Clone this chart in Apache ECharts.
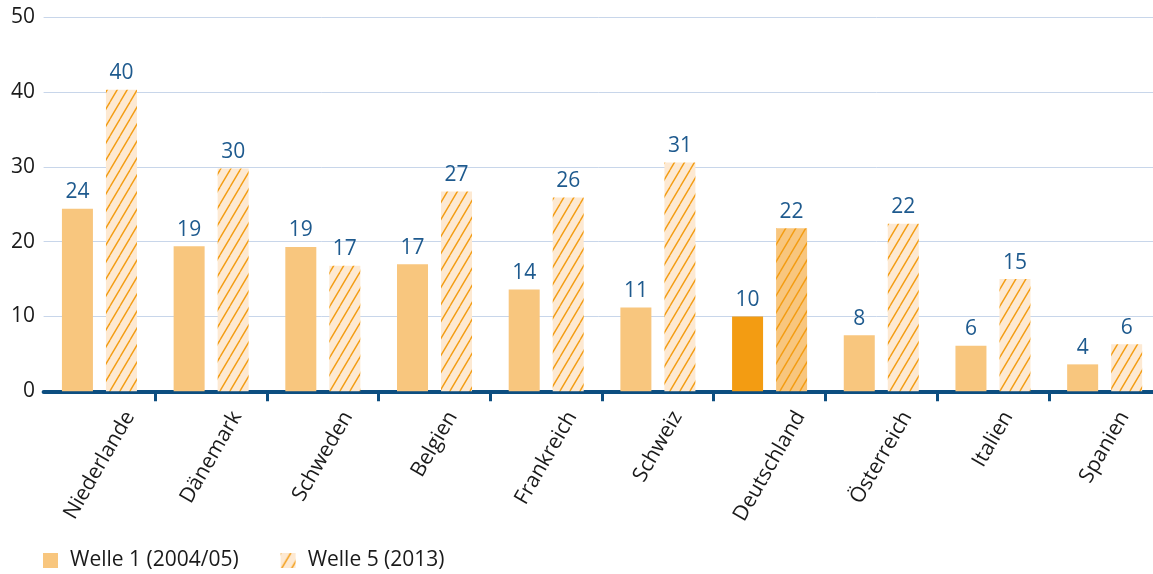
<!DOCTYPE html>
<html><head><meta charset="utf-8">
<script src="https://cdn.jsdelivr.net/npm/echarts@6/dist/echarts.min.js"></script>
<style>html,body{margin:0;padding:0;background:#fff}#c{width:1153px;height:574px}</style>
</head><body><div id="c"></div>
<script>
const categories = ['Niederlande','Dänemark','Schweden','Belgien','Frankreich','Schweiz','Deutschland','Österreich','Italien','Spanien'];
const welle1 = [24.4, 19.4, 19.3, 17.0, 13.6, 11.2, 10.0, 7.5, 6.1, 3.6];
const welle5 = [40.3, 29.8, 16.8, 26.7, 25.9, 30.6, 21.8, 22.4, 15.0, 6.3];
const yTicks = [0, 10, 20, 30, 40, 50];
const seriesNames = ['Welle 1 (2004/05)', 'Welle 5 (2013)'];
const highlight = 'Deutschland';

const FONT = '"Open Sans", "Noto Sans", sans-serif';
const FS = 21;
const C1 = '#f8c67e', C1H = '#f39c12', BG5 = '#fde9d2', STRIPE = '#f39c12', BLUE = '#1e5a8e', AXIS = '#0d4e80';

function hatch(bg, stroke) {
  const W = 10, H = 17;
  const c = document.createElement('canvas'); c.width = W; c.height = H;
  const g = c.getContext('2d');
  g.fillStyle = bg; g.fillRect(0, 0, W, H);
  g.strokeStyle = stroke; g.lineWidth = 1.4;
  for (const x0 of [-W, 0, W]) { g.beginPath(); g.moveTo(x0, H); g.lineTo(x0 + W, 0); g.stroke(); }
  return { image: c, repeat: 'repeat' };
}

// rotated labels: centred horizontally under the category, tops aligned
const mctx = document.createElement('canvas').getContext('2d');
mctx.font = FS + 'px ' + FONT;
const xData = categories.map(n => {
  const L = mctx.measureText(n).width;
  const dy = 13.7 + 0.433 * L;
  return { value: n, textStyle: { align: 'center', verticalAlign: 'top', lineHeight: dy, fontSize: FS, color: '#1a1a1a', fontFamily: FONT, padding: [0, 1.732 * dy, 0, 0] } };
});

const d1 = welle1.map((v, i) => categories[i] === highlight ? { value: v, itemStyle: { color: C1H } } : v);
const d5 = welle5.map((v, i) => categories[i] === highlight ? { value: v, itemStyle: { color: hatch(C1, STRIPE) } } : v);

const labelCfg = { show: true, position: 'top', distance: 6, color: BLUE, fontSize: FS, fontFamily: FONT, formatter: p => Math.round(p.value) };

const chart = echarts.init(document.getElementById('c'), null, { renderer: 'canvas' });
chart.setOption({
  animation: false,
  textStyle: { fontFamily: FONT },
  grid: { left: 43.6, right: -7.5, top: 17.3, bottom: 182.7, containLabel: false, outerBoundsMode: 'none' },
  legend: {
    left: 43, top: 550, padding: 0, itemWidth: 15, itemHeight: 15, itemGap: 42,
    textStyle: { fontSize: FS, color: '#1a1a1a', fontFamily: FONT, padding: [0, 0, 0, 7] },
    data: [{ name: seriesNames[0], icon: 'rect' }, { name: seriesNames[1], icon: 'rect' }]
  },
  xAxis: {
    type: 'category', data: xData, boundaryGap: true,
    axisLine: { lineStyle: { color: AXIS, width: 4 } },
    axisTick: { show: true, length: 10, lineStyle: { color: AXIS, width: 3 }, interval: (i) => i !== 0 },
    axisLabel: { interval: 0, rotate: 60, margin: 8, fontSize: FS, color: '#1a1a1a', fontFamily: FONT }
  },
  yAxis: {
    type: 'value', min: yTicks[0], max: yTicks[yTicks.length - 1], interval: yTicks[1] - yTicks[0],
    axisLine: { show: false }, axisTick: { show: false },
    axisLabel: { fontSize: FS, color: '#1a1a1a', fontFamily: FONT, margin: 8.6 },
    splitLine: { lineStyle: { color: '#c8d6ea', width: 1 } }
  },
  series: [
    { name: seriesNames[0], type: 'bar', data: d1, barWidth: 31, barGap: '42%', itemStyle: { color: C1 }, label: labelCfg },
    { name: seriesNames[1], type: 'bar', data: d5, barWidth: 31, itemStyle: { color: hatch(BG5, STRIPE) }, label: labelCfg }
  ]
});
</script></body></html>
